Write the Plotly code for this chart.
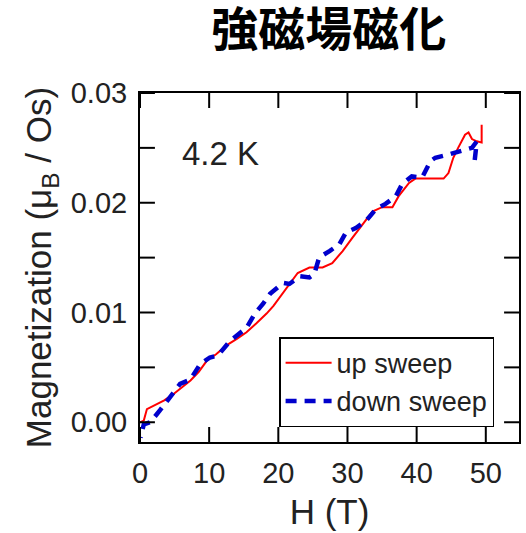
import plotly.graph_objects as go

# up sweep (red solid)
up_h = [0.0, 0.55, 1.0, 2.0, 3.5, 4.9, 6.1, 7.3, 8.5, 9.65, 11.0, 12.5, 14.0, 15.4, 16.8, 18.3, 19.3, 20.2,
        21.6, 22.8, 24.5, 26.4, 27.8, 29.3, 30.7, 32.2, 33.6, 35.0, 36.5, 37.4, 38.9, 39.8, 41.7, 43.9,
        44.6, 45.3, 46.0, 47.0, 47.5, 48.0, 48.7, 49.2, 49.4, 49.4]
up_m = [0.0, 0.00015, 0.0012, 0.0015, 0.0020, 0.0026, 0.0032, 0.0038, 0.0046, 0.0056, 0.0062, 0.0070, 0.0076,
        0.0082, 0.0090, 0.0099, 0.0106, 0.0114, 0.0126, 0.0136, 0.0141, 0.0141, 0.0145, 0.0156, 0.0168,
        0.0180, 0.0192, 0.0196, 0.0196, 0.0206, 0.0218, 0.0222, 0.0222, 0.0222, 0.0227, 0.0241, 0.0250,
        0.0262, 0.0264, 0.0258, 0.0256, 0.0255, 0.0255, 0.0271]

# down sweep (blue dashed)
down_h = [48.4, 48.7, 48.0, 46.5, 44.6, 42.7, 42.0, 40.8, 39.3, 37.9, 37.0, 35.5, 34.1, 32.6, 31.2, 29.8,
          28.8, 27.4, 25.9, 25.2, 24.5, 23.1, 21.6, 20.7, 18.8, 17.8, 16.6, 15.4, 14.0, 13.0, 11.3, 10.1,
          8.7, 7.3, 5.8, 4.4, 2.9, 1.5, 0.55, 0.07]
down_m = [0.0239, 0.0256, 0.0250, 0.0247, 0.0244, 0.0241, 0.0238, 0.0223, 0.0224, 0.0217, 0.0206, 0.0199,
          0.0194, 0.0183, 0.0177, 0.0173, 0.0162, 0.0156, 0.0150, 0.0135, 0.0132, 0.0133, 0.0126, 0.0127,
          0.0117, 0.0108, 0.0099, 0.0086, 0.0079, 0.0074, 0.0061, 0.0059, 0.0053, 0.0039, 0.0035, 0.0023,
          0.0011, 0.0000, -0.0002, -0.0014]

x_ticks = [0, 10, 20, 30, 40, 50]
y_label_ticks = [0.0, 0.01, 0.02, 0.03]
y_mark_ticks = [0.0, 0.005, 0.01, 0.015, 0.02, 0.025, 0.03]

X_RANGE = [0, 54.8]
Y_RANGE = [-0.0018, 0.0300]

W, H = 526, 533
M = dict(l=140, r=5, t=93, b=91)
FONT = "Liberation Sans, Arial, sans-serif"
TICK_LEN_PX = 15

# tick length converted through the axis scales (data units per pixel)
plot_w = W - M["l"] - M["r"]
plot_h = H - M["t"] - M["b"]
dx = TICK_LEN_PX * (X_RANGE[1] - X_RANGE[0]) / plot_w
dy = TICK_LEN_PX * (Y_RANGE[1] - Y_RANGE[0]) / plot_h

tick_x, tick_y = [], []
for v in x_ticks:
    tick_x += [v, v, None, v, v, None]
    tick_y += [Y_RANGE[0], Y_RANGE[0] + dy, None, Y_RANGE[1], Y_RANGE[1] - dy, None]
for v in y_mark_ticks:
    tick_x += [X_RANGE[0], X_RANGE[0] + dx, None, X_RANGE[1], X_RANGE[1] - dx, None]
    tick_y += [v, v, None, v, v, None]

fig = go.Figure()
fig.add_trace(go.Scatter(x=up_h, y=up_m, mode="lines", name="up sweep",
                         line=dict(color="#ff0000", width=2)))
fig.add_trace(go.Scatter(x=down_h, y=down_m, mode="lines", name="down sweep",
                         line=dict(color="#0000cc", width=4.5, dash="11px,8px")))
fig.add_trace(go.Scatter(x=tick_x, y=tick_y, mode="lines", showlegend=False, hoverinfo="skip",
                         cliponaxis=False, connectgaps=False,
                         line=dict(color="black", width=2)))

fig.add_annotation(x=11.6, y=0.0245, text="4.2 K", showarrow=False,
                   font=dict(family=FONT, size=33, color="#222"))

fig.update_layout(
    width=W, height=H,
    margin=M,
    plot_bgcolor="white",
    font=dict(family=FONT, color="#222"),
    title=dict(text="強磁場磁化", x=0.625, xanchor="center", y=0.945, yanchor="middle",
               font=dict(family="Noto Sans CJK JP", size=47, color="black", weight=600)),
    showlegend=True,
    legend=dict(x=0.367, y=0.30, xanchor="left", yanchor="top",
                bordercolor="black", borderwidth=1.5, bgcolor="white",
                font=dict(family=FONT, size=27, color="#222"),
                tracegroupgap=0, itemwidth=46),
)
fig.update_xaxes(range=X_RANGE, tickmode="array", tickvals=x_ticks, ticks="",
                 showline=True, linecolor="black", linewidth=2, mirror=True,
                 showgrid=False, zeroline=False,
                 tickfont=dict(family=FONT, size=29, color="#222"), ticklabelstandoff=4,
                 title=dict(text="H (T)", font=dict(family=FONT, size=35, color="#222"), standoff=12))
fig.update_yaxes(range=Y_RANGE, tickmode="array", tickvals=y_label_ticks, tickformat=".2f",
                 ticks="", showline=True, linecolor="black", linewidth=2, mirror=True,
                 showgrid=False, zeroline=False,
                 tickfont=dict(family=FONT, size=29, color="#222"), ticklabelstandoff=5,
                 title=dict(text="Magnetization (μ<sub>B</sub> / Os)",
                            font=dict(family=FONT, size=35, color="#222"), standoff=8))

fig.write_html("out.html")
